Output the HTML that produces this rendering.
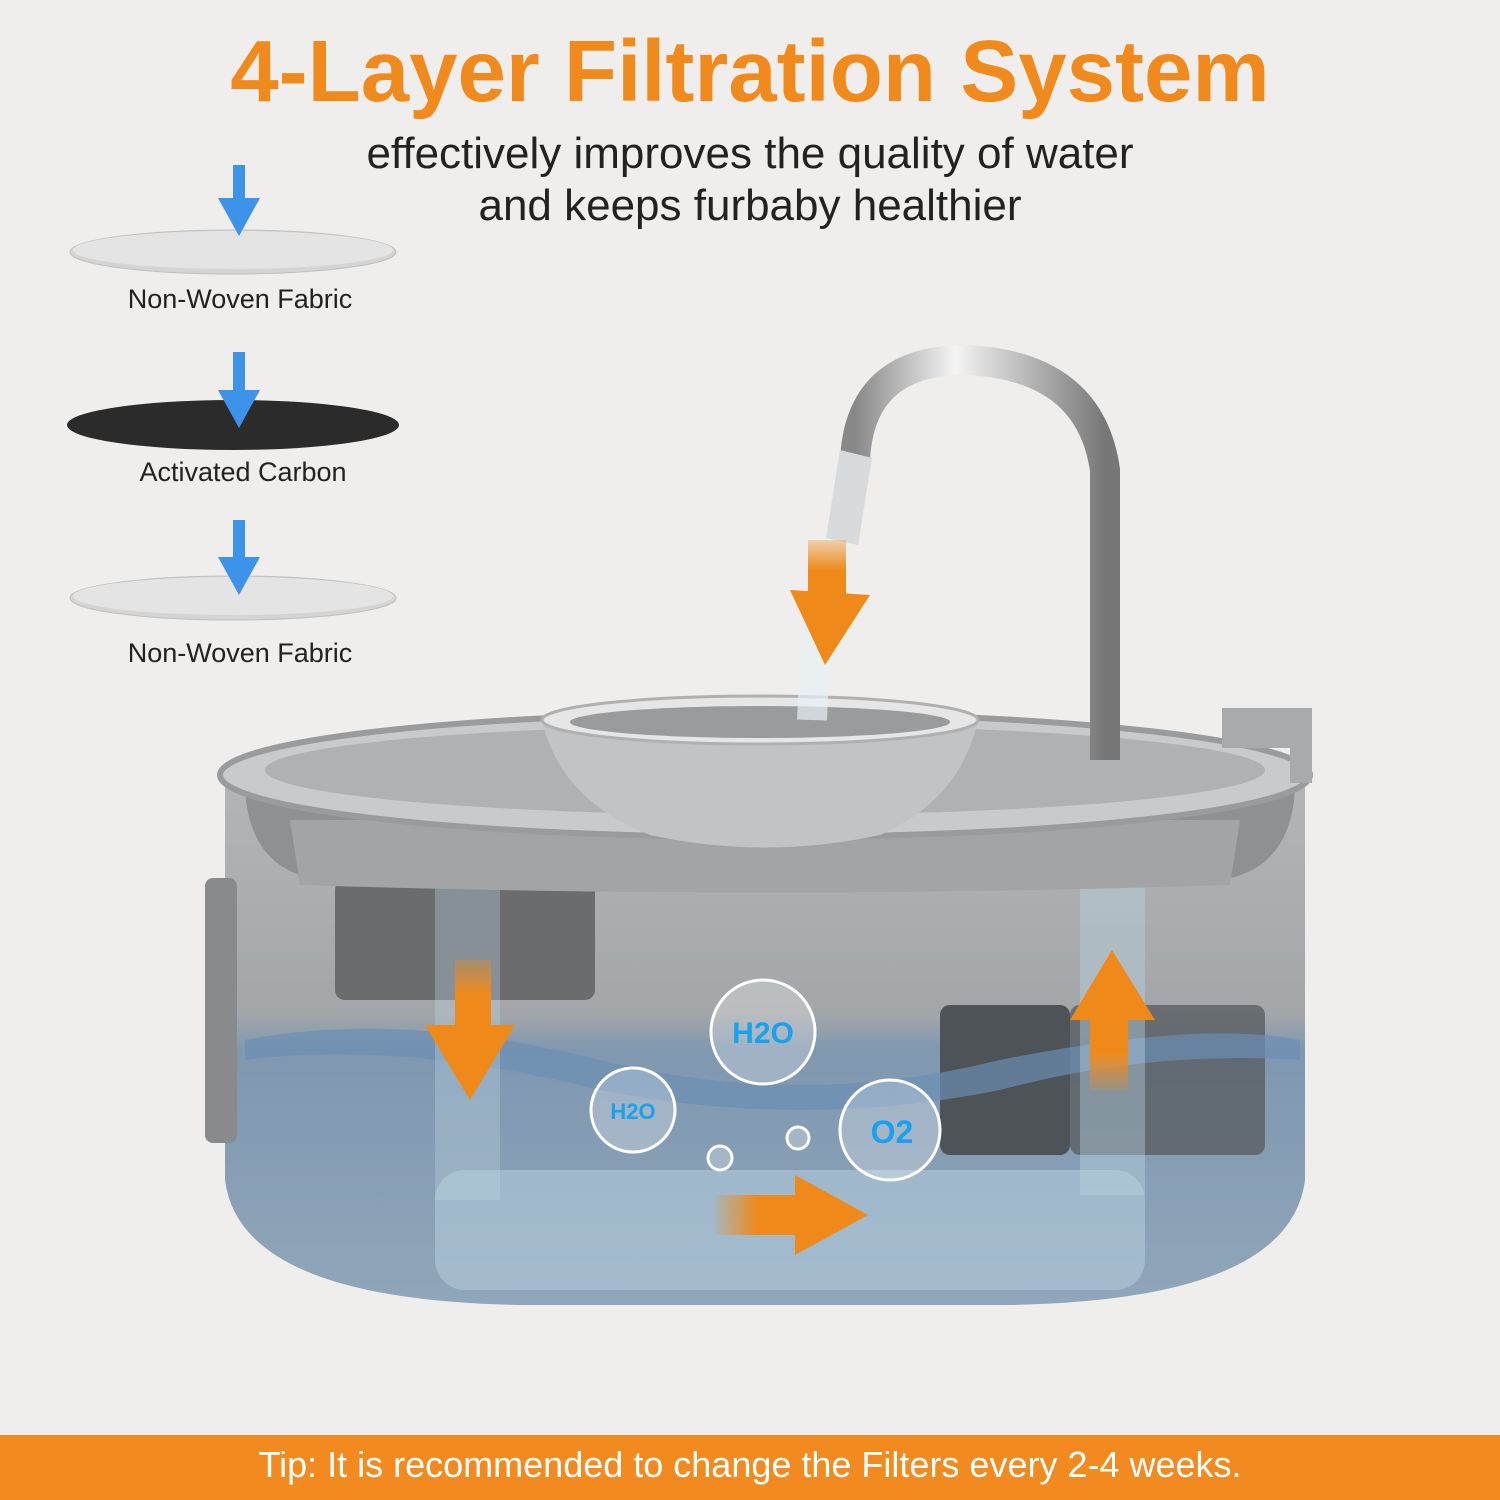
<!DOCTYPE html>
<html><head><meta charset="utf-8"><style>
html,body{margin:0;padding:0;}
body{width:1500px;height:1500px;background:#efeeec;position:relative;overflow:hidden;font-family:"Liberation Sans",sans-serif;}
.t{position:absolute;left:0;width:1500px;text-align:center;}
</style></head><body>
<svg width="1500" height="1500" style="position:absolute;left:0;top:0">
<defs>
<linearGradient id="body" x1="0" y1="0" x2="0" y2="1">
<stop offset="0" stop-color="#b4b5b6"/><stop offset="0.45" stop-color="#a3a6a9"/><stop offset="0.52" stop-color="#7f98b0"/><stop offset="1" stop-color="#90a6ba"/></linearGradient>
<linearGradient id="fau" x1="0" y1="0" x2="1" y2="0"><stop offset="0" stop-color="#888"/><stop offset="0.4" stop-color="#f4f4f4"/><stop offset="1" stop-color="#777"/></linearGradient>
<linearGradient id="ar" x1="0" y1="0" x2="0" y2="1"><stop offset="0" stop-color="#ef8a1a" stop-opacity="0.3"/><stop offset="0.5" stop-color="#ef8a1a"/></linearGradient>
<linearGradient id="arr" x1="0" y1="0" x2="1" y2="0"><stop offset="0" stop-color="#ef8a1a" stop-opacity="0.1"/><stop offset="0.5" stop-color="#ef8a1a"/></linearGradient>
<linearGradient id="aru" x1="0" y1="1" x2="0" y2="0"><stop offset="0" stop-color="#ef8a1a" stop-opacity="0.2"/><stop offset="0.5" stop-color="#ef8a1a"/></linearGradient>
</defs>
<ellipse cx="233" cy="252" rx="163" ry="22" fill="#d4d4d4" stroke="#c0c0c0"/>
<ellipse cx="233" cy="250" rx="160" ry="19" fill="#e4e4e4"/>
<ellipse cx="233" cy="425" rx="166" ry="25" fill="#2b2b2b"/>
<ellipse cx="233" cy="598" rx="163" ry="22" fill="#d4d4d4" stroke="#c0c0c0"/>
<ellipse cx="233" cy="596" rx="160" ry="19" fill="#e4e4e4"/>
<g fill="#3d93ea">
<rect x="233" y="165" width="12" height="35"/><polygon points="218,198 260,198 239,236"/>
<rect x="233" y="352" width="12" height="40"/><polygon points="218,390 260,390 239,428"/>
<rect x="233" y="520" width="12" height="40"/><polygon points="218,557 260,557 239,595"/>
</g>
<path d="M225 775 L225 1180 Q240 1300 520 1305 L1010 1305 Q1290 1300 1305 1180 L1305 775 Z" fill="url(#body)"/>
<rect x="205" y="878" width="32" height="265" rx="8" fill="#888a8c"/>
<rect x="335" y="880" width="260" height="120" rx="10" fill="#6a6c6e"/>
<rect x="940" y="1005" width="130" height="150" rx="10" fill="#4e5357"/>
<rect x="1070" y="1005" width="195" height="150" rx="10" fill="#5a5e62" opacity="0.8"/>
<path d="M245 1040 Q400 1010 600 1060 Q800 1110 1000 1060 Q1200 1020 1300 1040 L1300 1060 Q1150 1050 1000 1090 Q800 1130 600 1090 Q400 1040 245 1060Z" fill="#6b8fb3" opacity="0.7"/>
<rect x="435" y="850" width="65" height="350" fill="#bcd3e3" opacity="0.35"/>
<rect x="435" y="1170" width="710" height="120" rx="30" fill="#bcd6e6" opacity="0.45"/>
<rect x="1080" y="855" width="65" height="340" fill="#bcd6e6" opacity="0.4"/>
<path d="M245 790 Q250 870 320 880 L1220 880 Q1290 870 1295 790Z" fill="#8e9092"/>
<path d="M290 820 L1240 820 L1230 885 Q765 900 300 885Z" fill="#a2a4a6"/>
<ellipse cx="765" cy="775" rx="545" ry="62" fill="#c9cacb" stroke="#9a9b9d" stroke-width="6"/>
<ellipse cx="765" cy="770" rx="500" ry="45" fill="#b0b1b3"/>
<path d="M542 720 Q560 800 650 835 Q765 860 880 835 Q960 800 978 720Z" fill="#c2c3c5"/>
<ellipse cx="760" cy="720" rx="218" ry="24" fill="#e6e6e6" stroke="#b0b0b0" stroke-width="3"/>
<ellipse cx="760" cy="722" rx="190" ry="16" fill="#9a9b9d"/>
<rect x="1222" y="708" width="90" height="40" fill="#a9aaac"/>
<rect x="1290" y="708" width="22" height="75" fill="#a9aaac"/>
<path d="M855 460 Q860 360 965 360 Q1090 365 1105 470 L1105 760" fill="none" stroke="url(#fau)" stroke-width="30"/>
<polygon points="840,450 872,458 858,545 826,538" fill="#d8dadc"/>
<path d="M838 545 Q815 620 812 720" fill="none" stroke="#e8f0f5" stroke-width="30" opacity="0.7"/>
<rect x="455" y="960" width="36" height="70" fill="url(#ar)"/>
<polygon points="425,1025 515,1025 470,1100" fill="#ef8a1a"/>
<rect x="808" y="540" width="38" height="60" fill="url(#ar)"/>
<polygon points="790,590 870,595 825,665" fill="#ef8a1a"/>
<rect x="1090" y="1015" width="38" height="75" fill="url(#aru)"/>
<polygon points="1070,1020 1155,1020 1112,950" fill="#ef8a1a"/>
<rect x="715" y="1195" width="85" height="40" fill="url(#arr)"/>
<polygon points="795,1175 795,1255 868,1215" fill="#ef8a1a"/>
<g fill="#ffffff" fill-opacity="0.25" stroke="#ffffff" stroke-width="3">
<circle cx="763" cy="1032" r="52"/><circle cx="633" cy="1110" r="42"/><circle cx="890" cy="1130" r="50"/><circle cx="720" cy="1158" r="12"/><circle cx="798" cy="1138" r="11"/></g>
<g font-family="Liberation Sans,sans-serif" font-weight="bold" fill="#1aa0ec" text-anchor="middle">
<text x="763" y="1043" font-size="30">H2O</text><text x="633" y="1119" font-size="22">H2O</text><text x="892" y="1143" font-size="32">O2</text></g>
<rect x="0" y="1435" width="1500" height="65" fill="#f28a1f"/>
</svg>
<div class="t" style="top:22px;font-size:87px;font-weight:bold;color:#f08a1c">4-Layer Filtration System</div>
<div class="t" style="top:128px;font-size:44px;line-height:52px;color:#222">effectively improves the quality of water<br>and keeps furbaby healthier</div>
<div style="position:absolute;left:60px;width:360px;text-align:center;top:284px;font-size:27px;color:#222">Non-Woven Fabric</div>
<div style="position:absolute;left:60px;width:366px;text-align:center;top:457px;font-size:27px;color:#222">Activated Carbon</div>
<div style="position:absolute;left:60px;width:360px;text-align:center;top:638px;font-size:27px;color:#222">Non-Woven Fabric</div>
<div class="t" style="top:1444px;font-size:36px;color:#fff">Tip: It is recommended to change the Filters every 2-4 weeks.</div>
</body></html>
